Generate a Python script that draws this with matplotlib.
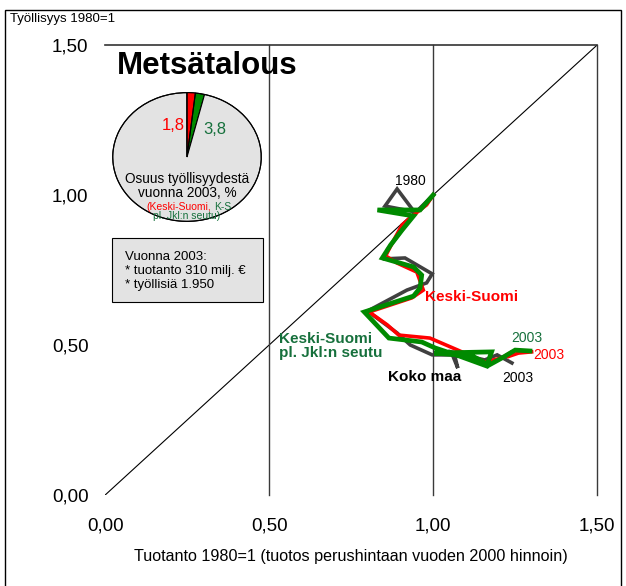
import matplotlib
matplotlib.use("Agg")
import matplotlib.pyplot as plt
from matplotlib.patches import Rectangle

plt.rcParams['font.family'] = ['Liberation Sans', 'DejaVu Sans']

# Tuotanto (x) ja työllisyys (y), 1980=1
koko_x = [1.00, 0.945, 0.89, 0.853, 0.948, 0.905, 0.86, 0.853, 0.914, 0.997, 0.98,
          0.92, 0.80, 0.89, 0.93, 0.997, 1.065, 1.075, 1.055, 1.157, 1.195, 1.24]
koko_y = [1.00, 0.94, 1.02, 0.963, 0.943, 0.883, 0.817, 0.787, 0.79, 0.737, 0.707,
          0.683, 0.613, 0.54, 0.50, 0.467, 0.467, 0.423, 0.477, 0.45, 0.467, 0.44]

ks_x = [1.00, 0.98, 0.94, 0.905, 0.88, 0.855, 0.89, 0.95, 0.97, 0.935, 0.805,
        0.86, 0.895, 0.99, 1.075, 1.157, 1.21, 1.24, 1.225, 1.26, 1.30]
ks_y = [1.00, 0.967, 0.933, 0.90, 0.85, 0.797, 0.773, 0.743, 0.683, 0.657, 0.61,
        0.567, 0.533, 0.523, 0.483, 0.443, 0.457, 0.477, 0.46, 0.473, 0.477]

ksj_x = [1.00, 0.96, 0.83, 0.94, 0.905, 0.87, 0.845, 0.94, 0.965, 0.96, 0.94, 0.79,
         0.865, 0.965, 1.006, 1.08, 1.163, 1.178, 1.003, 1.12, 1.17, 1.21, 1.25, 1.295]
ksj_y = [1.00, 0.95, 0.95, 0.93, 0.883, 0.833, 0.79, 0.76, 0.733, 0.69, 0.663, 0.61,
         0.523, 0.51, 0.49, 0.463, 0.43, 0.477, 0.473, 0.463, 0.433, 0.457, 0.483, 0.48]

ticks = [0.0, 0.5, 1.0, 1.5]
tick_labels = ["0,00", "0,50", "1,00", "1,50"]

# Osuus työllisyydestä 2003, %
share_ks = 1.8
share_ksj = 3.8

green = "#008a00"
green_txt = "#16703c"
red = "#ff0000"
dark = "#404040"

fig = plt.figure(figsize=(6.26, 5.86), dpi=100)
ax = fig.add_axes([0.168, 0.1553, 0.786, 0.768])

ax.plot([0, 1.5], [0, 1.5], color="black", lw=0.8)
for xv in ticks[1:]:
    ax.axvline(xv, color="#3a3a3a", lw=1.0, clip_on=False)

ax.plot(koko_x, koko_y, color=dark, lw=2.6, solid_joinstyle="miter")
ax.plot(ks_x, ks_y, color=red, lw=2.6, solid_joinstyle="miter")
ax.plot(ksj_x, ksj_y, color=green, lw=3.4, solid_joinstyle="miter")

ax.set_xlim(0, 1.5)
ax.set_ylim(0, 1.5)
ax.set_xticks(ticks)
ax.set_xticklabels(tick_labels)
ax.set_yticks(ticks)
ax.set_yticklabels(tick_labels)
ax.tick_params(axis="both", length=0, labelsize=13.5)
ax.tick_params(axis="x", pad=16)
ax.tick_params(axis="y", pad=12)
for side in ["left", "bottom", "right"]:
    ax.spines[side].set_visible(False)
ax.spines["top"].set_color("#333333")
ax.spines["top"].set_linewidth(1.2)
ax.set_xlabel("Tuotanto 1980=1 (tuotos perushintaan vuoden 2000 hinnoin)",
              fontsize=11.6, labelpad=11)

ax.text(0.037, 1.43, "Metsätalous", fontsize=22.5, fontweight="bold", va="center")
ax.text(0.976, 0.66, "Keski-Suomi", color=red, fontsize=11, fontweight="bold", va="center")
ax.text(0.53, 0.497, "Keski-Suomi\npl. Jkl:n seutu", color=green_txt, fontsize=11,
        fontweight="bold", va="center", linespacing=1.05)
ax.text(0.863, 0.393, "Koko maa", color="black", fontsize=11, fontweight="bold", va="center")
ax.text(0.884, 1.047, "1980", fontsize=10, va="center")
ax.text(1.238, 0.523, "2003", color=green_txt, fontsize=10, va="center")
ax.text(1.305, 0.467, "2003", color=red, fontsize=10, va="center")
ax.text(1.21, 0.39, "2003", color="black", fontsize=10, va="center")

# piirakka (hieman litistetty kuten alkuperäisessä)
pax = fig.add_axes([112 / 626, 1 - 222 / 586, 150 / 626, 130 / 586])
pax.pie([share_ksj, 100 - share_ksj], colors=[green, "#e3e3e3"], startangle=90,
        counterclock=False, wedgeprops=dict(edgecolor="black", linewidth=0.8))
pax.pie([share_ks, 100 - share_ks], colors=[red, "none"], startangle=90,
        counterclock=False, wedgeprops=dict(edgecolor="black", linewidth=0.8))
pax.set_aspect("auto")
pax.set_xlim(-1.01, 1.01)
pax.set_ylim(-1.01, 1.01)
pax.text(-0.19, 0.49, "1,8", color=red, fontsize=12, ha="center", va="center")
pax.text(0.37, 0.42, "3,8", color=green_txt, fontsize=12, ha="center", va="center")
pax.text(0.0, -0.45, "Osuus työllisyydestä\nvuonna 2003, %", fontsize=9.8,
         ha="center", va="center", linespacing=0.92)
pax.text(0.33, -0.77, "(Keski-Suomi,", color=red, fontsize=7.5, ha="right", va="center")
pax.text(0.37, -0.77, "K-S", color=green_txt, fontsize=7.5, ha="left", va="center")
pax.text(-0.01, -0.91, "pl. Jkl:n seutu)", color=green_txt, fontsize=7.5,
         ha="center", va="center")

# tietolaatikko
fig.patches.append(Rectangle((112 / 626, 1 - 302 / 586), 151 / 626, 64 / 586,
                             transform=fig.transFigure, facecolor="#e3e3e3",
                             edgecolor="black", linewidth=0.8))
fig.text(125 / 626, 1 - 271 / 586, "Vuonna 2003:\n* tuotanto 310 milj. €\n* työllisiä 1.950",
         fontsize=9.5, va="center", linespacing=1.2)
fig.text(10 / 626, 1 - 19 / 586, "Työllisyys 1980=1", fontsize=9.5, va="center")

fig.patches.append(Rectangle((5 / 626, -0.1), 616 / 626, 1.083,
                             transform=fig.transFigure, facecolor="none",
                             edgecolor="black", linewidth=1.0))

fig.savefig("out.png", dpi=100)
